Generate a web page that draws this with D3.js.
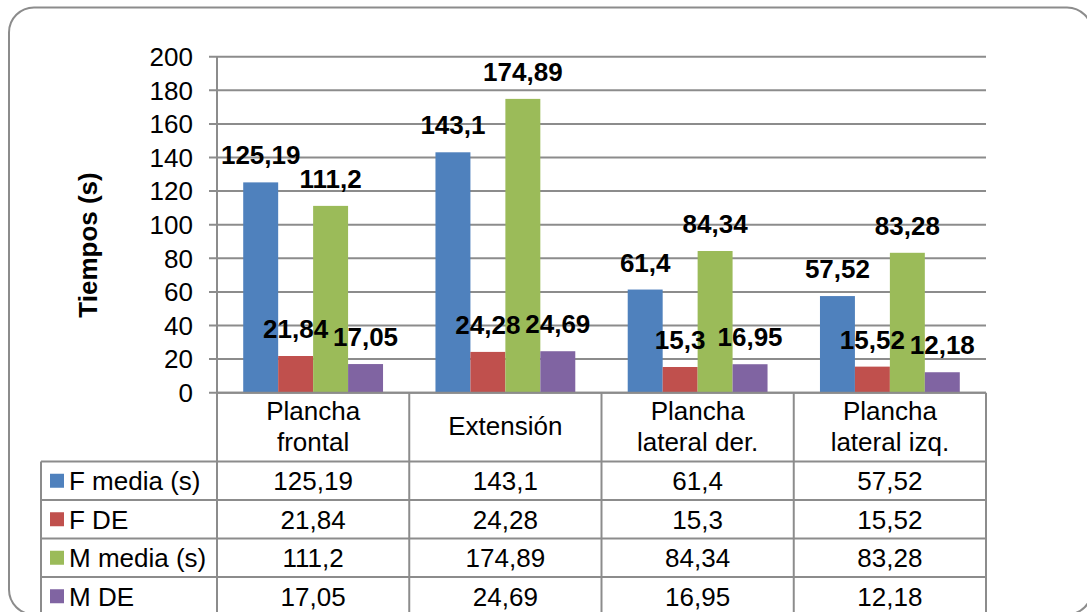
<!DOCTYPE html>
<html>
<head>
<meta charset="utf-8">
<script src="https://cdn.jsdelivr.net/npm/d3@7/dist/d3.min.js"></script>
<style>
  html, body { margin: 0; padding: 0; background: #fff; }
  svg { display: block; font-family: "Liberation Sans", Arial, sans-serif; }
</style>
</head>
<body>
<svg id="chart" width="1087" height="612"></svg>
<script>
// Categories (two-line header labels) and series
const categories = ["Plancha frontal", "Extensión", "Plancha lateral der.", "Plancha lateral izq."];
const categoryLines = [["Plancha", "frontal"], ["Extensión"], ["Plancha", "lateral der."], ["Plancha", "lateral izq."]];
const seriesNames = ["F media (s)", "F DE", "M media (s)", "M DE"];
const fMedia = [125.19, 143.1, 61.4, 57.52];
const fDE = [21.84, 24.28, 15.3, 15.52];
const mMedia = [111.2, 174.89, 84.34, 83.28];
const mDE = [17.05, 24.69, 16.95, 12.18];
const yTicks = [0, 20, 40, 60, 80, 100, 120, 140, 160, 180, 200];
const colors = ["#4F81BD", "#C0504D", "#9BBB59", "#8064A2"];

const seriesValues = [fMedia, fDE, mMedia, mDE];
const fmt = v => String(v).replace(".", ",");

const svg = d3.select("#chart");
const FS = 26;
const lineColor = "#8c8c8c";

// Outer frame
svg.append("rect")
  .attr("x", 9).attr("y", 7.5).attr("width", 1083).attr("height", 607)
  .attr("rx", 25).attr("ry", 25)
  .attr("fill", "#fff").attr("stroke", lineColor).attr("stroke-width", 2);

// Plot geometry
const plotLeft = 217, plotRight = 986, plotTop = 56.7, plotBottom = 392.7;
const legendLeft = 41;
const headerBottom = 461.5, rowH = 38.5;

const x = d3.scaleBand().domain(categories).range([plotLeft, plotRight]).padding(0);
const inner = d3.scaleBand().domain(seriesNames)
  .range([0, x.bandwidth()]).paddingOuter(0.75).paddingInner(0);
const y = d3.scaleLinear().domain([0, 200]).range([plotBottom, plotTop]);

// Gridlines and ticks
const grid = svg.append("g");
grid.selectAll("line").data(yTicks).join("line")
  .attr("x1", plotLeft - 8).attr("x2", plotRight)
  .attr("y1", d => y(d)).attr("y2", d => y(d))
  .attr("stroke", lineColor).attr("stroke-width", 2);

svg.append("g").selectAll("text").data(yTicks).join("text")
  .attr("x", 193).attr("y", d => y(d) + FS * 0.36)
  .attr("text-anchor", "end").attr("font-size", FS).attr("fill", "#000")
  .text(d => d);

// Y axis title
svg.append("text")
  .attr("transform", "translate(97,245) rotate(-90)")
  .attr("text-anchor", "middle").attr("font-size", FS).attr("font-weight", "bold")
  .text("Tiempos (s)");

// Bars
const barG = svg.append("g");
seriesNames.forEach((s, si) => {
  barG.append("g").selectAll("rect").data(categories).join("rect")
    .attr("x", c => x(c) + inner(s))
    .attr("width", inner.bandwidth())
    .attr("y", (c, i) => y(seriesValues[si][i]))
    .attr("height", (c, i) => y(0) - y(seriesValues[si][i]))
    .attr("fill", colors[si]);
});

// Data labels
const labG = svg.append("g");
seriesNames.forEach((s, si) => {
  labG.append("g").selectAll("text").data(categories).join("text")
    .attr("x", c => x(c) + inner(s) + inner.bandwidth() / 2)
    .attr("y", (c, i) => y(seriesValues[si][i]) - 18)
    .attr("text-anchor", "middle").attr("font-size", FS).attr("font-weight", "bold")
    .text((c, i) => fmt(seriesValues[si][i]));
});

// Data table
const table = svg.append("g").attr("stroke", lineColor).attr("stroke-width", 2);
const tableBottom = headerBottom + rowH * 4;
// axis line through plot and table
table.append("line").attr("x1", plotLeft).attr("x2", plotLeft).attr("y1", plotTop).attr("y2", tableBottom + 2);
// category separators and right edge
table.selectAll(".sep").data(categories.slice(1).concat(["end"])).join("line")
  .attr("x1", (c, i) => i < 3 ? x(c) : plotRight)
  .attr("x2", (c, i) => i < 3 ? x(c) : plotRight)
  .attr("y1", plotBottom).attr("y2", tableBottom + 2);
// header top (category axis)
table.append("line").attr("x1", plotLeft).attr("x2", plotRight).attr("y1", plotBottom).attr("y2", plotBottom);
// row lines
table.selectAll(".row").data(d3.range(4)).join("line")
  .attr("x1", legendLeft).attr("x2", plotRight)
  .attr("y1", i => headerBottom + i * rowH).attr("y2", i => headerBottom + i * rowH);
// legend column left edge
table.append("line").attr("x1", legendLeft).attr("x2", legendLeft).attr("y1", headerBottom).attr("y2", tableBottom + 2);

// Header labels
const hdr = svg.append("g");
categories.forEach((c, ci) => {
  const lines = categoryLines[ci];
  const cx = x(c) + x.bandwidth() / 2;
  const cy = (plotBottom + headerBottom) / 2 - 1;
  lines.forEach((ln, li) => {
    const off = lines.length === 1 ? 0 : (li === 0 ? -15.5 : 15.5);
    hdr.append("text")
      .attr("x", cx).attr("y", cy + off + FS * 0.36)
      .attr("text-anchor", "middle").attr("font-size", FS)
      .text(ln);
  });
});

// Table rows: legend key + values
seriesNames.forEach((s, si) => {
  const cy = headerBottom + si * rowH + rowH / 2;
  svg.append("rect")
    .attr("x", 50).attr("y", cy - 7).attr("width", 14).attr("height", 14)
    .attr("fill", colors[si]);
  svg.append("text")
    .attr("x", 69).attr("y", cy + FS * 0.36)
    .attr("font-size", FS).text(s);
  svg.append("g").selectAll("text").data(categories).join("text")
    .attr("x", c => x(c) + x.bandwidth() / 2)
    .attr("y", cy + FS * 0.36)
    .attr("text-anchor", "middle").attr("font-size", FS)
    .text((c, i) => fmt(seriesValues[si][i]));
});
</script>
</body>
</html>
